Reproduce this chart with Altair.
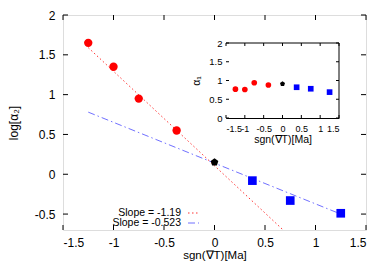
import altair as alt
import pandas as pd

# ---- data ----
red_x = [-1.25, -1.0, -0.75, -0.375]
red_y = [1.65, 1.35, 0.95, 0.55]
black_x = [0.0]
black_y = [0.15]
blue_x = [0.375, 0.75, 1.25]
blue_y = [-0.08, -0.33, -0.49]

fit_red_x = [-1.25, 0.68]
fit_red_y = [1.59, -0.70]
fit_blue_x = [-1.25, 1.25]
fit_blue_y = [0.78, -0.50]

inset_red_y = [0.77, 0.76, 0.94, 0.88]
inset_black_y = [0.91]
inset_blue_y = [0.82, 0.78, 0.69]

legend_labels = ["Slope = -1.19", "Slope = -0.523"]

x_ticks = [-1.5, -1.0, -0.5, 0.0, 0.5, 1.0, 1.5]
y_ticks = [-0.5, 0.0, 0.5, 1.0, 1.5, 2.0]
inset_y_ticks = [0.0, 0.5, 1.0, 1.5, 2.0]

x_dom = [-1.5, 1.5]
y_dom = [-0.7, 2.0]
iy_dom = [0.0, 2.0]

FONT = "Liberation Sans"
PENT = "M0,-1L0.951,-0.309L0.588,0.809L-0.588,0.809L-0.951,-0.309Z"
W, H = 303, 215
IX = [163, 276]
IY = [103, 28]

pts = lambda xs, ys: pd.DataFrame({"x": xs, "y": ys})
lab = "'' + datum.value"

xs = alt.Scale(domain=x_dom, nice=False, zero=False)
ys = alt.Scale(domain=y_dom, nice=False, zero=False)

xa = alt.Axis(values=x_ticks, labelExpr=lab, ticks=False, domain=False, grid=False,
              labelFontSize=12, labelPadding=7, labelOverlap=False,
              title="sgn(∇T)[Ma]", titleFontSize=11.5,
              titleFontWeight="normal", titleBaseline="alphabetic", titleY=28.5,
              labelFont=FONT, titleFont=FONT,
              labelColor="black", titleColor="black")
ya = alt.Axis(values=y_ticks, labelExpr=lab, ticks=False, domain=False, grid=False,
              labelFontSize=12, labelPadding=8, labelOverlap=False,
              title="log[α₂]", titleFontSize=12,
              titleFontWeight="normal", titlePadding=14, labelFont=FONT, titleFont=FONT,
              labelColor="black", titleColor="black")

X = lambda: alt.X("x:Q", scale=xs, axis=xa)
Y = lambda: alt.Y("y:Q", scale=ys, axis=ya)

red_fit = alt.Chart(pts(fit_red_x, fit_red_y)).mark_line(
    color="#ff0000", strokeWidth=1, strokeDash=[1.5, 2.5], opacity=0.8
).encode(x=X(), y=Y())
blue_fit = alt.Chart(pts(fit_blue_x, fit_blue_y)).mark_line(
    color="#3333ff", strokeWidth=1, strokeDash=[7, 3, 1.5, 3], opacity=0.7
).encode(x=X(), y=Y())
red_pts = alt.Chart(pts(red_x, red_y)).mark_point(
    shape="circle", filled=True, color="#ff0000", size=70, opacity=1
).encode(x=X(), y=Y())
black_pt = alt.Chart(pts(black_x, black_y)).mark_point(
    shape=PENT, filled=True, color="black", size=65, opacity=1
).encode(x=X(), y=Y())
blue_pts = alt.Chart(pts(blue_x, blue_y)).mark_point(
    shape="square", filled=True, color="#0000ff", size=75, opacity=1
).encode(x=X(), y=Y())

xt = pd.DataFrame({"x": x_ticks})
yt = pd.DataFrame({"y": y_ticks})
tick_b = alt.Chart(xt).mark_rule(color="black", strokeWidth=1, y2Offset=-5).encode(
    x=X(), y=alt.datum(y_dom[0]), y2=alt.datum(y_dom[0]))
tick_t = alt.Chart(xt).mark_rule(color="black", strokeWidth=1, y2Offset=5).encode(
    x=X(), y=alt.datum(y_dom[1]), y2=alt.datum(y_dom[1]))
tick_l = alt.Chart(yt).mark_rule(color="black", strokeWidth=1, x2Offset=5).encode(
    y=Y(), x=alt.datum(x_dom[0]), x2=alt.datum(x_dom[0]))
tick_r = alt.Chart(yt).mark_rule(color="black", strokeWidth=1, x2Offset=-5).encode(
    y=Y(), x=alt.datum(x_dom[1]), x2=alt.datum(x_dom[1]))

leg_txt1 = alt.Chart(pd.DataFrame({"t": [legend_labels[0]]})).mark_text(
    align="right", baseline="middle", font=FONT, fontSize=10.5, color="black"
).encode(text="t:N", x=alt.value(118), y=alt.value(198))
leg_txt2 = alt.Chart(pd.DataFrame({"t": [legend_labels[1]]})).mark_text(
    align="right", baseline="middle", font=FONT, fontSize=10.5, color="black"
).encode(text="t:N", x=alt.value(118), y=alt.value(208))
leg_l1 = alt.Chart(pd.DataFrame({"t": [0]})).mark_rule(
    color="#ff0000", strokeWidth=1, strokeDash=[1.5, 2.5], opacity=0.8
).encode(x=alt.value(125), x2=alt.value(136), y=alt.value(198))
leg_l2 = alt.Chart(pd.DataFrame({"t": [0]})).mark_rule(
    color="#3333ff", strokeWidth=1, strokeDash=[7, 3, 1.5, 3], opacity=0.7
).encode(x=alt.value(125), x2=alt.value(136), y=alt.value(208))

main = alt.layer(red_fit, blue_fit, tick_b, tick_t, tick_l, tick_r,
                 red_pts, black_pt, blue_pts, leg_txt1, leg_txt2, leg_l1, leg_l2)

# ---- inset ----
ixs = alt.Scale(domain=x_dom, nice=False, zero=False, range=IX)
iys = alt.Scale(domain=iy_dom, nice=False, zero=False, range=IY)
ixa = alt.Axis(orient="bottom", offset=-(H - IY[0]), values=x_ticks, labelExpr=lab,
               ticks=False, domain=True, domainColor="black", grid=False,
               labelFontSize=9, labelPadding=6, labelOverlap=False,
               title="sgn(∇T)[Ma]", titleFontSize=10.5,
               titleFontWeight="normal", titlePadding=1, labelFont=FONT, titleFont=FONT,
               labelColor="black", titleColor="black")
iya = alt.Axis(orient="left", offset=-IX[0], values=inset_y_ticks, labelExpr=lab,
               ticks=False, domain=True, domainColor="black", grid=False,
               labelFontSize=9.5, labelPadding=4, labelOverlap=False,
               title="α₁", titleFontSize=10.5,
               titleFontWeight="normal", titlePadding=7, labelFont=FONT, titleFont=FONT,
               labelColor="black", titleColor="black")
IXe = lambda: alt.X("x:Q", scale=ixs, axis=ixa)
IYe = lambda: alt.Y("y:Q", scale=iys, axis=iya)

ibg = alt.Chart(pd.DataFrame({"t": [0]})).mark_rect(fill="white").encode(
    x=alt.X("a:Q", scale=ixs, axis=ixa), x2=alt.datum(x_dom[1]),
    y=alt.Y("b:Q", scale=iys, axis=iya), y2=alt.datum(iy_dom[1])
).transform_calculate(a=str(x_dom[0]), b=str(iy_dom[0]))
itop = alt.Chart(pd.DataFrame({"t": [0]})).mark_rule(color="black", strokeWidth=1).encode(
    x=alt.datum(x_dom[0]), x2=alt.datum(x_dom[1]), y=alt.datum(iy_dom[1]))
iright = alt.Chart(pd.DataFrame({"t": [0]})).mark_rule(color="black", strokeWidth=1).encode(
    x=alt.datum(x_dom[1]), y=alt.datum(iy_dom[0]), y2=alt.datum(iy_dom[1]))

ixt = pd.DataFrame({"x": x_ticks})
iyt = pd.DataFrame({"y": inset_y_ticks})
itick_b = alt.Chart(ixt).mark_rule(color="black", strokeWidth=1, y2Offset=-3).encode(
    x=IXe(), y=alt.datum(iy_dom[0]), y2=alt.datum(iy_dom[0]))
itick_t = alt.Chart(ixt).mark_rule(color="black", strokeWidth=1, y2Offset=3).encode(
    x=IXe(), y=alt.datum(iy_dom[1]), y2=alt.datum(iy_dom[1]))
itick_l = alt.Chart(iyt).mark_rule(color="black", strokeWidth=1, x2Offset=3).encode(
    y=IYe(), x=alt.datum(x_dom[0]), x2=alt.datum(x_dom[0]))
itick_r = alt.Chart(iyt).mark_rule(color="black", strokeWidth=1, x2Offset=-3).encode(
    y=IYe(), x=alt.datum(x_dom[1]), x2=alt.datum(x_dom[1]))

ired = alt.Chart(pts(red_x, inset_red_y)).mark_point(
    shape="circle", filled=True, color="#ff0000", size=32, opacity=1
).encode(x=IXe(), y=IYe())
iblack = alt.Chart(pts(black_x, inset_black_y)).mark_point(
    shape=PENT, filled=True, color="black", size=28, opacity=1
).encode(x=IXe(), y=IYe())
iblue = alt.Chart(pts(blue_x, inset_blue_y)).mark_point(
    shape="square", filled=True, color="#0000ff", size=32, opacity=1
).encode(x=IXe(), y=IYe())

inset = alt.layer(ibg, itop, iright, itick_b, itick_t, itick_l, itick_r, ired, iblack, iblue)

chart = alt.layer(main, inset).resolve_scale(x="independent", y="independent").properties(
    width=W, height=H,
    autosize=alt.AutoSizeParams(type="none"),
    padding={"left": 55, "top": 7, "right": 14, "bottom": 31},
).configure_view(stroke="black", strokeWidth=1).configure(background="white")

chart.save("out.html", embed_options={"renderer": "svg", "actions": False})
